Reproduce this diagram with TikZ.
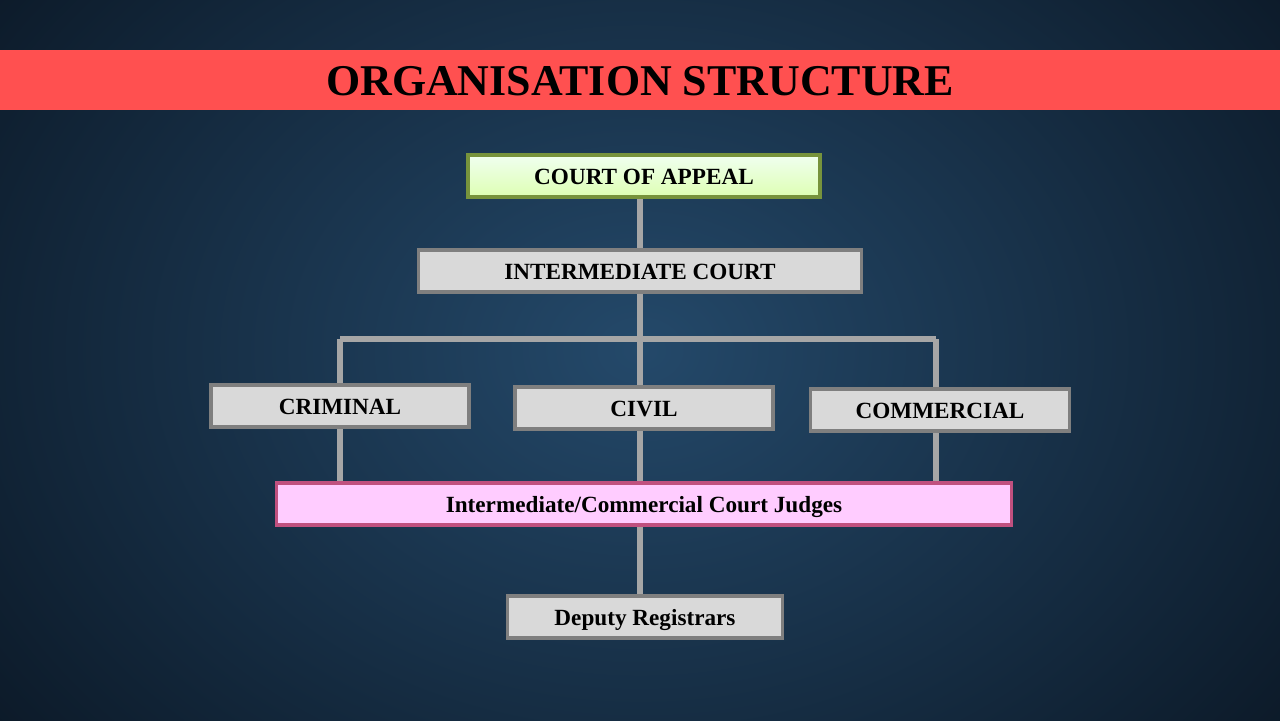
\documentclass[tikz,border=0pt]{standalone}
\usepackage{fontspec}
\setmainfont{Liberation Serif}
\definecolor{bgdark}{HTML}{0B1826}
\definecolor{bglight}{HTML}{24496A}
\definecolor{titlered}{HTML}{FF5050}
\definecolor{linegray}{HTML}{A6A6A6}
\definecolor{boxgray}{HTML}{D9D9D9}
\definecolor{bordergray}{HTML}{7F7F7F}
\definecolor{greenb}{HTML}{77933C}
\definecolor{pinkf}{HTML}{FFCCFF}
\definecolor{pinkb}{HTML}{C0507F}
\begin{document}
\begin{tikzpicture}[x=0.1mm,y=-0.1mm,
  box/.style={draw=bordergray,line width=1.1pt,fill=boxgray,font=\bfseries\fontsize{6.6}{8}\selectfont,inner sep=0pt,minimum height=4.2mm,text depth=0pt,text height=4.6pt},
  conn/.style={draw=linegray,line width=1.7pt}]
\useasboundingbox (0,0) rectangle (1280,720);
\fill[bgdark] (0,0) rectangle (1280,720);
\shade[inner color=bglight,outer color=bgdark] (-200,-300) rectangle (1480,1000);
\fill[titlered] (0,50) rectangle (1280,110);
\node[font=\bfseries\fontsize{12.5}{14}\selectfont] (title) at (640,81) {ORGANISATION STRUCTURE};
\coordinate (hl) at (340,339);
\coordinate (hr) at (936,339);
\coordinate (hc) at (640,339);
\node[box,draw=greenb,top color=white!70!green!20,bottom color=green!25!lime!30,minimum width=35.2mm] (coa) at (644,176) {COURT OF APPEAL};
\node[box,minimum width=44.3mm] (ic) at (640,271) {INTERMEDIATE COURT};
\node[box,minimum width=25.8mm] (crim) at (340,406) {CRIMINAL};
\node[box,minimum width=25.8mm] (civ) at (644,408) {CIVIL};
\node[box,minimum width=25.9mm] (com) at (940,410) {COMMERCIAL};
\node[box,fill=pinkf,draw=pinkb,minimum width=73.5mm] (jud) at (644,504) {Intermediate/Commercial Court Judges};
\node[box,minimum width=27.5mm] (dep) at (645,617) {Deputy Registrars};
\draw[conn] (hl) -- (hr);
\draw[conn] (coa.south -| hc) -- (ic.north -| hc);
\draw[conn] (ic.south -| hc) -- (civ.north -| hc);
\draw[conn] (civ.south -| hc) -- (jud.north -| hc);
\draw[conn] (jud.south -| hc) -- (dep.north -| hc);
\draw[conn] (hl) -- (crim.north -| hl);
\draw[conn] (crim.south -| hl) -- (jud.north -| hl);
\draw[conn] (hr) -- (com.north -| hr);
\draw[conn] (com.south -| hr) -- (jud.north -| hr);
\end{tikzpicture}
\end{document}
